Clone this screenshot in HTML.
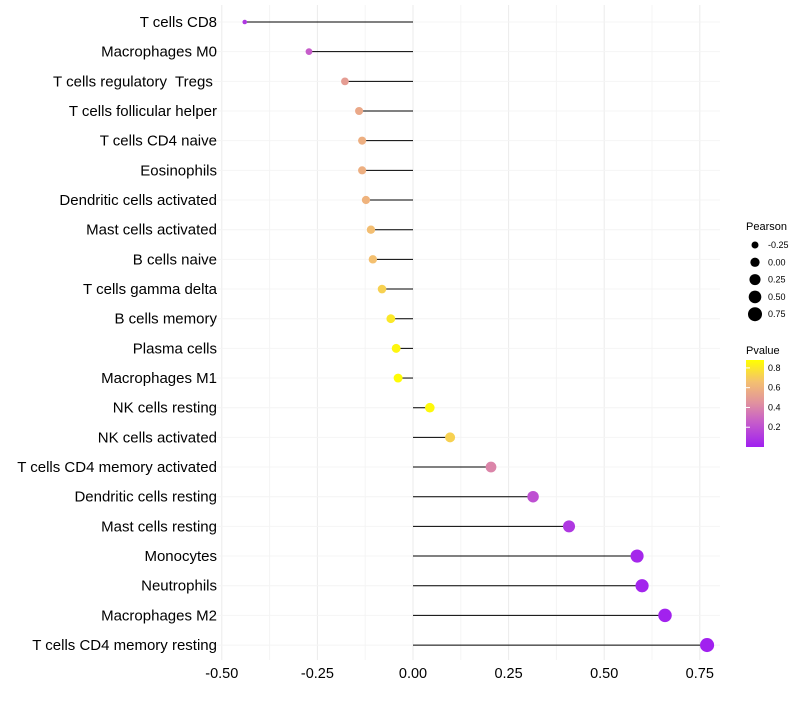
<!DOCTYPE html>
<html><head><meta charset="utf-8"><style>
body{margin:0;background:#fff;font-family:"Liberation Sans",sans-serif}
text{white-space:pre}
</style></head><body>
<svg id="c" width="800" height="700" xmlns="http://www.w3.org/2000/svg">
<defs><linearGradient id="pg" x1="0" y1="1" x2="0" y2="0">
<stop offset="0" stop-color="#a020f0"/><stop offset="0.3" stop-color="#c860c8"/><stop offset="0.5" stop-color="#e090a0"/><stop offset="0.75" stop-color="#f4c070"/><stop offset="1" stop-color="#ffff00"/></linearGradient></defs>
</svg>
<script>
const categories=["T cells CD8","Macrophages M0","T cells regulatory  Tregs ","T cells follicular helper","T cells CD4 naive","Eosinophils","Dendritic cells activated","Mast cells activated","B cells naive","T cells gamma delta","B cells memory","Plasma cells","Macrophages M1","NK cells resting","NK cells activated","T cells CD4 memory activated","Dendritic cells resting","Mast cells resting","Monocytes","Neutrophils","Macrophages M2","T cells CD4 memory resting"];
const pearson=[-0.44,-0.272,-0.178,-0.141,-0.133,-0.133,-0.123,-0.11,-0.105,-0.081,-0.058,-0.044,-0.039,0.044,0.097,0.204,0.314,0.408,0.586,0.599,0.659,0.769];
const pvalue=[0.1,0.25,0.5,0.55,0.58,0.58,0.6,0.65,0.66,0.72,0.8,0.85,0.87,0.86,0.72,0.4,0.2,0.1,0.03,0.02,0.01,0.005];
const xTicks=[-0.5,-0.25,0,0.25,0.5,0.75];
const xTickLabels=["-0.50","-0.25","0.00","0.25","0.50","0.75"];
const sizeLegend=[-0.25,0,0.25,0.5,0.75];
const sizeLegendLabels=["-0.25","0.00","0.25","0.50","0.75"];
const pLegend=[0.2,0.4,0.6,0.8];
const NS="http://www.w3.org/2000/svg",svg=document.getElementById("c");
const x=v=>413+v*382.4, y=i=>22+i*29.67;
const r=v=>Math.sqrt(Math.max(3,12.25+(v+0.25)*36.75));
const stops=[[0,[160,32,240]],[0.3,[200,96,200]],[0.5,[224,144,160]],[0.75,[244,192,112]],[1,[255,255,0]]];
function col(p){let t=Math.min(1,Math.max(0,p/0.88));for(let k=1;k<stops.length;k++){if(t<=stops[k][0]){const a=stops[k-1],b=stops[k],f=(t-a[0])/(b[0]-a[0]);return "rgb("+a[1].map((c,j)=>Math.round(c+(b[1][j]-c)*f)).join(",")+")";}}return "rgb(255,255,0)";}
function el(t,a,txt){const e=document.createElementNS(NS,t);for(const k in a)e.setAttribute(k,a[k]);if(txt!==undefined)e.textContent=txt;svg.appendChild(e);return e;}
for(let k=0;k<xTicks.length;k++){
 const g=el("line",{x1:x(xTicks[k]),x2:x(xTicks[k]),y1:5,y2:660,stroke:"#ebebeb","stroke-width":1});
 
 
 if(k<xTicks.length-1){const m=el("line",{x1:x(xTicks[k]+0.125),x2:x(xTicks[k]+0.125),y1:5,y2:660,stroke:"#f4f4f4","stroke-width":1});
 
 }
 const t=el("text",{x:x(xTicks[k]),y:678,"text-anchor":"middle","font-size":14.5,fill:"#000"},xTickLabels[k]);
 
 
}
categories.forEach((c,i)=>{
 const gl=el("line",{x1:205,x2:720,y1:y(i),y2:y(i),stroke:"#f4f4f4"});
 
 
 const t=el("text",{x:217,y:y(i)+5,"text-anchor":"end","font-size":15,fill:"#000"},c);
 
 
 const s=el("line",{x1:x(0),x2:x(pearson[i]),y1:y(i),y2:y(i),stroke:"#000","stroke-width":1});
 
 
 const d=el("circle",{cx:x(pearson[i]),cy:y(i),r:r(pearson[i]),fill:col(pvalue[i])});
 
 
});
const lt=el("text",{x:746,y:230,"font-size":11},"Pearson");


sizeLegend.forEach((v,k)=>{
 const cy=245+k*17.3;
 const c=el("circle",{cx:755,cy:cy,r:r(v),fill:"#000"});
 
 
 const t=el("text",{x:768,y:cy+3,"font-size":9},sizeLegendLabels[k]);
 
 
});
const pt=el("text",{x:746,y:354,"font-size":11},"Pvalue");


const bar=el("rect",{x:746,y:360,width:18,height:87,fill:"url(#pg)"});


pLegend.forEach(p=>{
 const yy=447-p/0.88*87;
 const tk=el("line",{x1:746,x2:750,y1:yy,y2:yy,stroke:"#fff"});
 
 
 const t=el("text",{x:768,y:yy+3,"font-size":9},p.toFixed(1));
 
 
});
</script>
</body></html>
